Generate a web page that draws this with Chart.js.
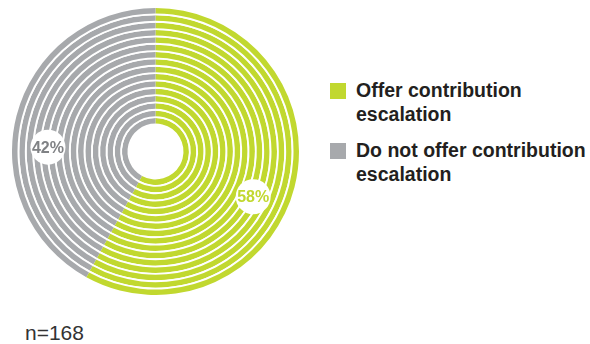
<!DOCTYPE html>
<html>
<head>
<meta charset="utf-8">
<script src="https://cdn.jsdelivr.net/npm/chart.js@4/dist/chart.umd.min.js"></script>
<style>
  body { margin: 0; background: #fff; width: 590px; height: 344px; position: relative; overflow: hidden; font-family: "Liberation Sans", Arial, sans-serif; }
  #wrap { position: absolute; left: 12px; top: 8px; width: 287px; height: 287px; }
  #legend { position: absolute; left: 330px; top: 78px; }
  .item { position: relative; padding-left: 26px; font-weight: bold; font-size: 19.5px; line-height: 24px; color: #231f20; margin-bottom: 12px; white-space: nowrap; }
  .box { position: absolute; left: 0; top: 5px; width: 16px; height: 16px; }
  #note { position: absolute; left: 25px; top: 321px; font-size: 21px; line-height: 24px; color: #333; }
</style>
</head>
<body>
<div id="wrap"><canvas id="grafica"></canvas></div>
<div id="legend"></div>
<div id="note"></div>
<script>
// datos
var categorias = ["Offer contribution escalation", "Do not offer contribution escalation"];
var lineasLeyenda = [["Offer contribution", "escalation"], ["Do not offer contribution", "escalation"]];
var porcentajes = [58, 42];
var etiquetas = ["58%", "42%"];
var colores = ["#c1d82f", "#a7a9ac"];
var coloresTexto = ["#c1d82f", "#808285"];
var posEtiqueta = [0.55, 0.42]; // donde cae la etiqueta dentro de cada arco
var anillos = 16;
var nota = "n=168";

// leyenda en html
var leyenda = document.getElementById("legend");
for (var i = 0; i < categorias.length; i++) {
  leyenda.innerHTML += '<div class="item"><span class="box" style="background:' + colores[i] + '"></span>' +
    lineasLeyenda[i].join("<br>") + '</div>';
}
document.getElementById("note").textContent = nota;

// anillos con separadores blancos
var datasets = [];
for (var i = 0; i < anillos; i++) {
  datasets.push({ data: porcentajes, backgroundColor: colores, borderWidth: 0, weight: 3 });
  if (i < anillos - 1) {
    datasets.push({ data: porcentajes, backgroundColor: ["#fff", "#fff"], borderWidth: 0, weight: 1 });
  }
}

var etiquetasPlugin = {
  id: "etiquetas",
  afterDraw: function (chart) {
    var ctx = chart.ctx;
    var arcos = chart.getDatasetMeta(0).data;
    arcos.forEach(function (arc, i) {
      var a = arc.startAngle + posEtiqueta[i] * (arc.endAngle - arc.startAngle);
      var r = arc.outerRadius * 0.75;
      var x = arc.x + Math.cos(a) * r;
      var y = arc.y + Math.sin(a) * r;
      ctx.save();
      ctx.fillStyle = "#fff";
      ctx.beginPath();
      ctx.arc(x, y, 17.5, 0, Math.PI * 2);
      ctx.fill();
      ctx.fillStyle = coloresTexto[i];
      ctx.font = "bold 16px 'Liberation Sans', Arial, sans-serif";
      ctx.textAlign = "center";
      ctx.textBaseline = "middle";
      ctx.fillText(etiquetas[i], x, y + 1);
      ctx.restore();
    });
  }
};

new Chart(document.getElementById("grafica"), {
  type: "doughnut",
  data: { labels: categorias, datasets: datasets },
  options: {
    responsive: true,
    maintainAspectRatio: false,
    animation: false,
    cutout: "19.5%",
    layout: { padding: 0 },
    events: [],
    plugins: { legend: { display: false }, tooltip: { enabled: false } }
  },
  plugins: [etiquetasPlugin]
});
</script>
</body>
</html>
